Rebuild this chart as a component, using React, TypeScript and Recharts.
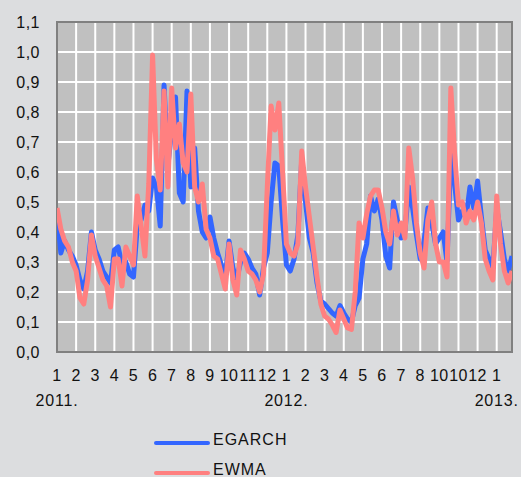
import React from "react";
import {
  LineChart,
  Line,
  XAxis,
  YAxis,
  CartesianGrid,
  ReferenceArea,
  Legend,
} from "recharts";

// samples per month tick on the category axis
const PTS_PER_TICK = 5;

const MONTH_LABELS = [
  "1", "2", "3", "4", "5", "6", "7", "8", "9", "10", "11", "12",
  "1", "2", "3", "4", "5", "6", "7", "8", "10", "10", "12", "1",
];
const YEAR_LABELS: Record<number, string> = { 0: "2011.", 12: "2012.", 23: "2013." };
const Y_TICKS = [0, 0.1, 0.2, 0.3, 0.4, 0.5, 0.6, 0.7, 0.8, 0.9, 1.0, 1.1];

const EGARCH = [
  0.47, 0.33, 0.37, 0.34, 0.32, 0.29, 0.24, 0.21, 0.27, 0.4,
  0.34, 0.31, 0.27, 0.25, 0.23, 0.34, 0.35, 0.29, 0.3, 0.26,
  0.25, 0.42, 0.44, 0.49, 0.47, 0.58, 0.55, 0.42, 0.89, 0.62,
  0.74, 0.85, 0.53, 0.5, 0.87, 0.55, 0.68, 0.47, 0.4, 0.38,
  0.45, 0.38, 0.33, 0.29, 0.25, 0.37, 0.28, 0.24, 0.3, 0.33,
  0.31, 0.28, 0.26, 0.19, 0.28, 0.33, 0.5, 0.63, 0.62, 0.44,
  0.29, 0.27, 0.31, 0.39, 0.64, 0.5, 0.38, 0.33, 0.23, 0.17,
  0.16, 0.145, 0.13, 0.12, 0.155, 0.13, 0.11, 0.1, 0.155, 0.18,
  0.31, 0.36, 0.52, 0.47, 0.51, 0.44, 0.32, 0.28, 0.5, 0.44,
  0.38, 0.4, 0.55, 0.48, 0.39, 0.31, 0.37, 0.48, 0.43, 0.36,
  0.38, 0.4, 0.3, 0.66, 0.56, 0.44, 0.47, 0.45, 0.55, 0.48,
  0.57, 0.45, 0.34, 0.31, 0.28, 0.48, 0.4, 0.31, 0.27, 0.32,
];

const EWMA = [
  0.48, 0.41, 0.37, 0.35, 0.3, 0.27, 0.18, 0.16, 0.24, 0.39,
  0.32, 0.28, 0.24, 0.22, 0.15, 0.31, 0.31, 0.22, 0.35, 0.32,
  0.29, 0.52, 0.42, 0.32, 0.56, 0.99, 0.64, 0.54, 0.87, 0.55,
  0.88, 0.68, 0.76, 0.63, 0.6, 0.86, 0.55, 0.5, 0.56, 0.41,
  0.38, 0.32, 0.31, 0.26, 0.21, 0.36, 0.24, 0.19, 0.34, 0.31,
  0.27, 0.26, 0.24, 0.2, 0.26, 0.55, 0.82, 0.74, 0.83, 0.6,
  0.36, 0.33, 0.32, 0.36, 0.67, 0.55, 0.45, 0.35, 0.25, 0.16,
  0.12, 0.11, 0.09, 0.065, 0.14, 0.11, 0.08, 0.075, 0.2, 0.43,
  0.38, 0.46, 0.52, 0.54, 0.54, 0.48, 0.4, 0.36, 0.47, 0.39,
  0.43, 0.38, 0.68, 0.58, 0.43, 0.33, 0.28, 0.44, 0.5, 0.36,
  0.3, 0.3, 0.25, 0.88, 0.66, 0.49, 0.5, 0.43, 0.47, 0.44,
  0.5, 0.43, 0.31, 0.27, 0.24, 0.52, 0.36, 0.27, 0.23, 0.27,
];

const BLUE = "#3366ff";
const PINK = "#ff8080";
const FONT = "'Liberation Sans', Arial, sans-serif";

const data = EGARCH.map((v, i) => ({
  t: i / PTS_PER_TICK,
  egarch: v,
  ewma: EWMA[i],
}));
const X_MAX = (EGARCH.length - 1) / PTS_PER_TICK;
const X_TICKS = MONTH_LABELS.map((_, i) => i);

const MonthTick = (props: any) => {
  const { x, y, payload } = props;
  const year = YEAR_LABELS[payload.value];
  return (
    <g>
      <text x={x} y={y + 23} textAnchor="middle" dominantBaseline="central"
        fontSize={16} fontFamily={FONT} fill="#111" letterSpacing={0.4}>
        {MONTH_LABELS[payload.value]}
      </text>
      {year && (
        <text x={x} y={y + 48} textAnchor="middle" dominantBaseline="central"
          fontSize={16} fontFamily={FONT} fill="#111" letterSpacing={0.8}>
          {year}
        </text>
      )}
    </g>
  );
};

const LegendBox = () => (
  <div style={{ fontFamily: FONT, fontSize: 16, color: "#111", letterSpacing: 1 }}>
    {[
      { name: "EGARCH", color: BLUE },
      { name: "EWMA", color: PINK },
    ].map((item) => (
      <div key={item.name} style={{ position: "relative", height: 30 }}>
        <svg width={56} height={30} style={{ position: "absolute", left: 0, top: 0 }}>
          <line x1={2} y1={17} x2={54} y2={17} stroke={item.color} strokeWidth={4} strokeLinecap="round" />
        </svg>
        <span style={{ position: "absolute", left: 59, top: 5, lineHeight: "18px" }}>{item.name}</span>
      </div>
    ))}
  </div>
);

export default function App() {
  return (
    <div style={{ position: "absolute", left: 0, top: 0, width: 521, height: 477, background: "#dcdddf", overflow: "hidden" }}>
      <LineChart width={521} height={477} data={data}
        margin={{ top: 22, right: 9, bottom: 75, left: 0 }}>
        <CartesianGrid stroke="#ffffff" strokeWidth={2} fill="#c0c0c0" fillOpacity={1} />
        <XAxis dataKey="t" type="number" domain={[0, X_MAX]} ticks={X_TICKS}
          interval={0} tickSize={0} tickMargin={0} axisLine={false}
          height={50} tick={<MonthTick />} allowDataOverflow />
        <YAxis domain={[0, 1.1]} ticks={Y_TICKS} width={57} tickSize={0} tickMargin={17}
          axisLine={false} interval={0}
          tickFormatter={(v: number) => v.toFixed(1).replace(".", ",")}
          tick={{ fontSize: 16, fontFamily: FONT, fill: "#111", letterSpacing: 0.5 }} />
        <ReferenceArea x1={0} x2={X_MAX} y1={0} y2={1.1} fill="none" stroke="#808080" strokeWidth={2} />
        <Line dataKey="egarch" name="EGARCH" stroke={BLUE} strokeWidth={5} dot={false}
          strokeLinejoin="round" isAnimationActive={false} />
        <Line dataKey="ewma" name="EWMA" stroke={PINK} strokeWidth={5} dot={false}
          strokeLinejoin="round" isAnimationActive={false} />
        <Legend layout="vertical" align="center" verticalAlign="middle"
          content={<LegendBox />}
          wrapperStyle={{ left: 154, top: 426, width: 200 }} />
      </LineChart>
    </div>
  );
}
